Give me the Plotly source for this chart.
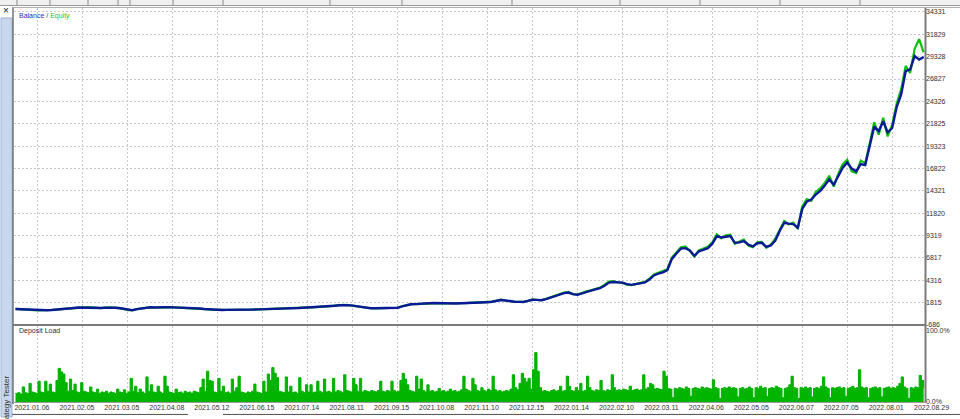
import plotly.graph_objects as go

# ---------------- data ----------------
date_labels = ["2021.01.06", "2021.02.05", "2021.03.05", "2021.04.08", "2021.05.12",
               "2021.06.15", "2021.07.14", "2021.08.11", "2021.09.15", "2021.10.08",
               "2021.11.10", "2021.12.15", "2022.01.14", "2022.02.10", "2022.03.11",
               "2022.04.06", "2022.05.05", "2022.06.07", "2022.07.05", "2022.08.01"]
last_date_label = "2022.08.29"
date_tick_pos = [5, 15, 25, 35, 45, 55, 65, 75, 85, 95, 105, 115, 125, 135, 145,
                 155, 165, 175, 185, 195]

balance_ticks = [34331, 31829, 29328, 26827, 24326, 21825, 19323, 16822, 14321,
                 11820, 9319, 6817, 4316, 1815, -686]
load_ticks = [0, 100]
load_tick_text = ["0.0%", "100.0%"]

balance = [
    1100, 1080, 1050, 1010, 970, 930, 925, 950, 980, 1010,
    1060, 1100, 1150, 1210, 1260, 1240, 1300, 1280, 1230, 1200,
    1250, 1280, 1240, 1200, 1100, 980, 960, 1080, 1160, 1230,
    1280, 1260, 1240, 1280, 1300, 1290, 1260, 1240, 1220, 1190,
    1170, 1150, 1100, 1060, 1000, 970, 985, 1000, 990, 1000,
    980, 990, 1010, 1030, 1050, 1060, 1070, 1090, 1100, 1120,
    1140, 1160, 1190, 1210, 1240, 1270, 1280, 1290, 1300, 1340,
    1400, 1460, 1510, 1540, 1530, 1470, 1390, 1320, 1230, 1180,
    1170, 1180, 1180, 1190, 1200, 1230, 1380, 1530, 1620, 1640,
    1650, 1690, 1740, 1770, 1750, 1720, 1710, 1690, 1710, 1740,
    1750, 1770, 1790, 1810, 1820, 1840, 1900, 2000, 2100, 2050,
    1950, 1900, 1890, 1880, 2000, 2130, 2110, 2070, 2200, 2380,
    2520, 2700, 2870, 2930, 2760, 2680, 2850, 3030, 3150, 3280,
    3420, 3700, 4050, 4120, 4090, 4050, 3880, 3790, 3880, 3970,
    4060, 4400, 4850, 5050, 5200, 5450, 6700, 7300, 7850, 7900,
    7650, 7050, 7550, 7700, 7900, 8400, 9250, 9100, 9200, 9250,
    8500, 8550, 8700, 8300, 8100, 8450, 8500, 8050, 8200, 8750,
    9850, 10750, 10650, 10600, 10200, 12300, 13100, 13350, 13900, 14300,
    14900, 15600, 15000, 15900, 16900, 17500, 16800, 16500, 17300, 17200,
    19200, 21500, 21000, 22100, 20850, 21350, 23700, 25100, 27700, 27900,
    29400, 29000, 29300]

equity = [
    1100, 1085, 1045, 1010, 965, 930, 920, 955, 980, 1015,
    1065, 1100, 1160, 1215, 1270, 1240, 1310, 1280, 1225, 1200,
    1255, 1290, 1240, 1195, 1100, 970, 955, 1085, 1165, 1240,
    1290, 1260, 1235, 1285, 1310, 1290, 1255, 1240, 1215, 1190,
    1170, 1145, 1095, 1060, 995, 965, 985, 1005, 990, 1000,
    975, 990, 1015, 1030, 1055, 1060, 1075, 1090, 1105, 1120,
    1145, 1160, 1195, 1210, 1245, 1275, 1280, 1295, 1305, 1345,
    1410, 1470, 1520, 1560, 1530, 1460, 1385, 1315, 1220, 1175,
    1170, 1185, 1180, 1195, 1200, 1235, 1395, 1545, 1640, 1640,
    1660, 1700, 1755, 1790, 1750, 1715, 1710, 1685, 1715, 1750,
    1760, 1780, 1800, 1825, 1830, 1850, 1920, 2030, 2130, 2040,
    1940, 1900, 1880, 1890, 2020, 2160, 2100, 2090, 2230, 2420,
    2560, 2740, 2920, 3000, 2740, 2700, 2900, 3080, 3180, 3330,
    3480, 3780, 4150, 4200, 4060, 4020, 3820, 3760, 3920, 4020,
    4120, 4480, 4950, 5150, 5300, 5550, 6850, 7450, 8000, 8100,
    7600, 6950, 7650, 7850, 8050, 8550, 9450, 9000, 9350, 9400,
    8400, 8650, 8850, 8200, 8000, 8550, 8600, 7950, 8300, 8950,
    10050, 10950, 10550, 10750, 10050, 12600, 13400, 13200, 14200, 14600,
    15200, 16000, 14800, 16200, 17300, 17800, 16500, 16300, 17700, 17400,
    19600, 22000, 20600, 22500, 20400, 21700, 24100, 25700, 28300, 27500,
    30200, 31300, 29800]

deposit_load = [
    12, 13, 11, 21, 13, 12, 26, 14, 13, 12,
    29, 14, 13, 29, 15, 25, 14, 13, 30, 47,
    42, 39, 27, 15, 32, 16, 25, 14, 13, 27,
    15, 14, 13, 21, 14, 13, 18, 12, 14, 13,
    15, 12, 14, 13, 12, 18, 14, 13, 17, 12,
    14, 33, 15, 22, 13, 18, 14, 12, 35, 15,
    24, 14, 13, 22, 14, 12, 36, 22, 14, 13,
    12, 18, 13, 14, 12, 15, 13, 14, 12, 15,
    14, 13, 20, 32, 15, 43, 30, 29, 14, 13,
    33, 15, 22, 13, 14, 12, 32, 15, 20, 36,
    14, 13, 12, 14, 13, 15, 25, 14, 13, 12,
    29, 14, 39, 30, 48, 40, 34, 15, 14, 13,
    35, 14, 22, 13, 14, 12, 34, 15, 13, 24,
    14, 24, 13, 14, 29, 15, 13, 32, 14, 15,
    13, 33, 14, 16, 15, 13, 38, 16, 15, 14,
    33, 24, 15, 33, 14, 16, 15, 14, 16, 15,
    14, 16, 29, 15, 14, 16, 15, 29, 16, 14,
    15, 30, 40, 32, 24, 16, 15, 14, 36, 18,
    32, 16, 14, 24, 15, 16, 14, 15, 19, 15,
    16, 14, 15, 18, 15, 16, 14, 15, 17, 36,
    18, 16, 15, 33, 24, 16, 15, 20, 16, 15,
    18, 16, 36, 17, 15, 16, 14, 15, 16, 15,
    18, 38, 20, 17, 26, 40, 33, 28, 33, 18,
    45, 69, 43, 20, 15, 16, 15, 14, 16, 17,
    15, 16, 22, 15, 16, 36, 22, 16, 15, 20,
    16, 26, 15, 16, 36, 20, 16, 15, 17, 16,
    30, 16, 15, 17, 16, 38, 20, 16, 17, 16,
    18, 17, 16, 22, 16, 17, 18, 16, 17, 38,
    18, 20, 26, 24, 18, 19, 18, 17, 43, 36,
    19, 18, 6, 19, 18, 20, 19, 18, 21, 19,
    8, 19, 20, 19, 18, 21, 19, 20, 19, 18,
    31, 20, 19, 5, 19, 20, 19, 21, 19, 20,
    19, 7, 19, 20, 18, 19, 21, 19, 6, 20,
    19, 22, 19, 20, 8, 19, 20, 19, 22, 20,
    19, 6, 19, 20, 24, 36, 20, 19, 5, 20,
    19, 21, 19, 20, 7, 19, 20, 19, 22, 35,
    21, 19, 6, 20, 19, 20, 21, 19, 20, 8,
    19, 20, 22, 19, 20, 45, 21, 19, 20, 6,
    19, 20, 21, 19, 20, 7, 19, 20, 21, 19,
    20, 19, 22, 26, 35, 21, 19, 5, 20, 19,
    21, 20, 37, 30, 20]

trade_idx = list(range(len(balance)))
load_idx = [j * 0.5 for j in range(len(deposit_load))]

# ---------------- layout helpers ----------------
W, H = 960, 419
ML, MR, MT, MB = 14, 35, 8, 15
PW, PH = W - ML - MR, H - MT - MB


def px(xp):
    return (xp - ML) / PW


def py(yp):
    return (H - MB - yp) / PH


FONT = "Liberation Sans, Arial, sans-serif"
TXT = "#303030"
GRID = "#c8c8c8"
GRID_DASH = "2px,2px"

fig = go.Figure()
fig.add_trace(go.Scatter(x=trade_idx, y=equity, mode="lines", name="Equity",
                         line=dict(color="#10c010", width=2.2),
                         xaxis="x2", yaxis="y", hoverinfo="skip"))
fig.add_trace(go.Scatter(x=trade_idx, y=balance, mode="lines", name="Balance",
                         line=dict(color="#0a1a96", width=2.4),
                         xaxis="x2", yaxis="y", hoverinfo="skip"))
fig.add_trace(go.Scatter(x=load_idx, y=deposit_load, mode="lines", name="Deposit Load",
                         line=dict(color="#00b000", width=1, shape="hv"),
                         fill="tozeroy", fillcolor="#00b400",
                         xaxis="x", yaxis="y2", hoverinfo="skip"))

xr = [-0.33, 202.3]
common_x = dict(range=xr, tickvals=date_tick_pos, showgrid=True, gridcolor=GRID,
                griddash=GRID_DASH, gridwidth=1, zeroline=False, showline=False, ticks="")

fig.update_layout(
    width=W, height=H, margin=dict(l=ML, r=MR, t=MT, b=MB),
    paper_bgcolor="white", plot_bgcolor="white", showlegend=False,
    font=dict(family=FONT, size=7, color=TXT),
    xaxis=dict(**common_x, domain=[0, 1], anchor="y2", ticktext=date_labels,
               ticklabelshift=-6, tickfont=dict(size=7, color=TXT)),
    xaxis2=dict(**common_x, domain=[0, 1], anchor="y", matches="x",
                showticklabels=False),
    yaxis=dict(domain=[py(326.5), 1], range=[-686, 34777], side="right",
               anchor="x2", tickvals=balance_ticks,
               ticktext=[str(v) for v in balance_ticks],
               showgrid=True, gridcolor=GRID, griddash=GRID_DASH, zeroline=False,
               showline=False, ticks="", tickfont=dict(size=7, color=TXT)),
    yaxis2=dict(domain=[0, py(328)], range=[0, 105.6], side="right", anchor="x",
                tickvals=load_ticks, ticktext=load_tick_text, showgrid=False,
                zeroline=False, showline=False, ticks="",
                tickfont=dict(size=7, color=TXT)),
)

shapes = [
    # toolbar strip on top
    dict(type="rect", xref="paper", yref="paper", x0=px(0), x1=px(960), y0=py(6), y1=py(0),
         fillcolor="#f0f0f0", line=dict(width=0), layer="above"),
    dict(type="line", xref="paper", yref="paper", x0=px(0), x1=px(960), y0=py(5.5), y1=py(5.5),
         line=dict(color="#9a9a9a", width=1), layer="above"),
    # left side bar
    dict(type="rect", xref="paper", yref="paper", x0=px(1), x1=px(12), y0=py(419), y1=py(18),
         fillcolor="#c6d7ee", line=dict(color="#9fb4d4", width=1), layer="above"),
    # plot frame
    dict(type="line", xref="paper", yref="paper", x0=px(13), x1=px(13), y0=py(406), y1=py(7),
         line=dict(color="#303030", width=1), layer="above"),
    dict(type="line", xref="paper", yref="paper", x0=px(13), x1=px(960), y0=py(7.5), y1=py(7.5),
         line=dict(color="#b0b0b0", width=1), layer="above"),
    dict(type="line", xref="paper", yref="paper", x0=px(925.5), x1=px(925.5), y0=py(405), y1=py(8),
         line=dict(color="#7a7a7a", width=2), layer="above"),
    dict(type="line", xref="paper", yref="paper", x0=px(13), x1=px(926), y0=py(326.5), y1=py(326.5),
         line=dict(color="#7a7a7a", width=2), layer="above"),
    dict(type="line", xref="paper", yref="paper", x0=px(13), x1=px(926), y0=py(404.5), y1=py(404.5),
         line=dict(color="#9a9a9a", width=1), layer="above"),
    # bottom strip
    dict(type="line", xref="paper", yref="paper", x0=px(12), x1=px(188), y0=py(416.5), y1=py(416.5),
         line=dict(color="#505050", width=1), layer="above"),
    dict(type="line", xref="paper", yref="paper", x0=px(223), x1=px(960), y0=py(416.5), y1=py(416.5),
         line=dict(color="#505050", width=1), layer="above"),
]
for sx in [17, 50, 88, 118, 130, 173, 223, 330, 402, 512, 620, 700, 780, 860]:
    shapes.append(dict(type="line", xref="paper", yref="paper", x0=px(sx), x1=px(sx),
                       y0=py(5.5), y1=py(0), line=dict(color="#8a8a8a", width=1), layer="above"))
fig.update_layout(shapes=shapes)

annotations = [
    dict(xref="paper", yref="paper", x=px(17), y=py(16), xanchor="left", yanchor="middle",
         text='<span style="color:#2b2bc8">Balance</span> / <span style="color:#1fbf1f">Equity</span>',
         showarrow=False, font=dict(size=7, color="#404040")),
    dict(xref="paper", yref="paper", x=px(17), y=py(333), xanchor="left", yanchor="middle",
         text="Deposit Load", showarrow=False, font=dict(size=7, color="#303030")),
    dict(xref="paper", yref="paper", x=px(931), y=py(410), xanchor="center",
         yanchor="middle", text=last_date_label, showarrow=False,
         font=dict(size=7, color=TXT)),
    dict(xref="paper", yref="paper", x=px(6.5), y=py(405), xanchor="center", yanchor="middle",
         text="Strategy Tester", textangle=-90, showarrow=False,
         font=dict(size=8, color="#303030")),
    dict(xref="paper", yref="paper", x=px(5.5), y=py(10.5), xanchor="center", yanchor="middle",
         text="×", showarrow=False, font=dict(size=10, color="#202020")),
]
fig.update_layout(annotations=annotations)

fig.write_html("out.html", config={"displayModeBar": False},
               post_script="document.body.style.margin='0';document.body.style.padding='0';")
